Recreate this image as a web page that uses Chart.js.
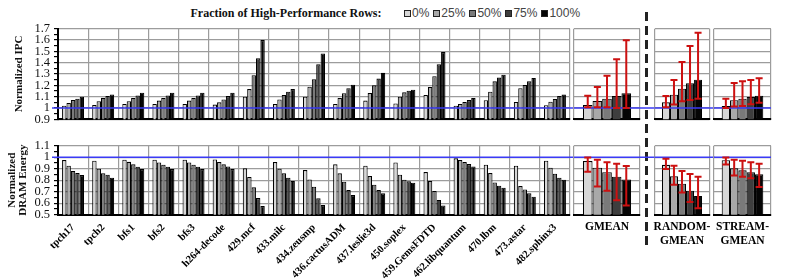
<!DOCTYPE html>
<html><head><meta charset="utf-8">
<script src="https://cdn.jsdelivr.net/npm/chart.js@4.4.0/dist/chart.umd.min.js"></script>
<style>
html,body{margin:0;padding:0;background:#fff;}
#wrap{position:relative;width:789px;height:279px;overflow:hidden;background:#fff;}
#wrap canvas{position:absolute;left:0;top:0;}
#title{position:absolute;left:0;top:6px;width:572px;text-align:center;font:bold 12px "Liberation Serif",serif;line-height:14px;color:#111;}
#legend{position:absolute;left:404px;top:6px;display:flex;font:12px "Liberation Sans",Arial,sans-serif;line-height:14px;color:#444;}
#legend span.item{display:flex;align-items:center;margin-right:4px;}
#legend span.sw{display:inline-block;width:5px;height:5px;border:1.5px solid #222;margin-right:1px;}
#dash{position:absolute;left:645px;top:12px;width:3px;height:236px;background:repeating-linear-gradient(to bottom,#222 0 9px,transparent 9px 14px);}
</style></head><body>
<div id="wrap">
<div id="title">Fraction of High-Performance Rows:</div>
<div id="legend"></div>
<div id="dash"></div>
<canvas id="c0" width="789" height="279"></canvas>
<canvas id="c1" width="789" height="279"></canvas>
<canvas id="c2" width="789" height="279"></canvas>
<canvas id="c3" width="789" height="279"></canvas>
<canvas id="c4" width="789" height="279"></canvas>
<canvas id="c5" width="789" height="279"></canvas>
<canvas id="c6" width="789" height="279"></canvas>
<canvas id="c7" width="789" height="279"></canvas>
</div>
<script>
// ---------------- data ----------------
const categories = ['tpch17','tpch2','bfs1','bfs2','bfs3','h264-decode','429.mcf','433.milc','434.zeusmp','436.cactusADM','437.leslie3d','450.soplex','459.GemsFDTD','462.libquantum','470.lbm','473.astar','482.sphinx3'];
const seriesNames = ['0%','25%','50%','75%','100%'];

const ipc0   = [1.02,1.026,1.035,1.035,1.035,1.03,1.10,1.035,1.10,1.035,1.065,1.04,1.115,1.02,1.068,1.053,1.024];
const ipc25  = [1.044,1.06,1.06,1.065,1.065,1.05,1.167,1.075,1.188,1.088,1.132,1.10,1.185,1.035,1.144,1.174,1.056];
const ipc50  = [1.07,1.09,1.088,1.088,1.088,1.075,1.29,1.115,1.253,1.13,1.20,1.138,1.28,1.053,1.235,1.203,1.08];
const ipc75  = [1.082,1.106,1.11,1.11,1.11,1.105,1.438,1.144,1.385,1.174,1.26,1.153,1.385,1.07,1.268,1.235,1.106];
const ipc100 = [1.10,1.12,1.135,1.135,1.135,1.135,1.60,1.167,1.482,1.206,1.31,1.162,1.494,1.088,1.294,1.265,1.118];

const energy0   = [0.975,0.97,0.978,0.978,0.978,0.98,0.903,0.958,0.888,0.938,0.926,0.955,0.871,0.99,0.935,0.926,0.97];
const energy25  = [0.926,0.90,0.96,0.955,0.955,0.958,0.828,0.90,0.807,0.86,0.836,0.848,0.793,0.975,0.862,0.749,0.909];
const energy50  = [0.88,0.86,0.938,0.935,0.935,0.938,0.738,0.86,0.743,0.787,0.761,0.804,0.706,0.958,0.781,0.72,0.857];
const energy75  = [0.862,0.848,0.917,0.917,0.917,0.92,0.645,0.822,0.642,0.714,0.714,0.79,0.628,0.94,0.752,0.686,0.822];
const energy100 = [0.845,0.822,0.897,0.897,0.897,0.897,0.575,0.793,0.584,0.671,0.686,0.778,0.581,0.92,0.735,0.657,0.804];

const meanLabels = ['GMEAN', ['RANDOM-','GMEAN'], ['STREAM-','GMEAN']];

const gmeanIpc      = [1.026,1.062,1.082,1.106,1.13];
const gmeanIpcLow   = [1.006,1.006,1.006,1.0,1.0];
const gmeanIpcHigh  = [1.109,1.185,1.285,1.43,1.598];
const randomIpc     = [1.05,1.117,1.17,1.218,1.25];
const randomIpcLow  = [1.006,1.03,1.06,1.07,1.082];
const randomIpcHigh = [1.106,1.247,1.406,1.547,1.665];
const streamIpc     = [1.018,1.068,1.082,1.097,1.109];
const streamIpcLow  = [1.0,1.012,1.018,1.033,1.047];
const streamIpcHigh = [1.082,1.22,1.236,1.247,1.262];

const gmeanEnergy      = [0.966,0.909,0.869,0.831,0.806];
const gmeanEnergyLow   = [0.874,0.746,0.709,0.626,0.58];
const gmeanEnergyHigh  = [0.997,0.977,0.957,0.943,0.923];
const randomEnergy     = [0.934,0.834,0.769,0.709,0.663];
const randomEnergyLow  = [0.897,0.76,0.694,0.611,0.557];
const randomEnergyHigh = [0.986,0.926,0.88,0.854,0.831];
const streamEnergy     = [0.974,0.903,0.886,0.869,0.851];
const streamEnergyLow  = [0.937,0.84,0.829,0.817,0.74];
const streamEnergyHigh = [0.997,0.977,0.969,0.957,0.943];

const ipcRange = [0.9, 1.7];
const energyRange = [0.5, 1.1];
const baseline = 1.0;

// ---------------- styling ----------------
const fills = ['#d6d6d6','#a9a9a9','#7a7a7a','#3e3e3e','#050505'];
const W = 789, H = 279;
const SERIF = '"Liberation Serif", "Times New Roman", serif';

// legend
const lg = document.getElementById('legend');
seriesNames.forEach((n,i)=>{
  const it = document.createElement('span'); it.className='item';
  const sw = document.createElement('span'); sw.className='sw'; sw.style.background = fills[i];
  it.appendChild(sw); it.appendChild(document.createTextNode(n)); lg.appendChild(it);
});

function overlayPlugin(ext, err){
  return {
    id:'overlay',
    afterDatasetsDraw(chart){
      const c = chart.ctx, y = chart.scales.y, a = chart.chartArea;
      c.save();
      const yb = y.getPixelForValue(baseline);
      c.strokeStyle = '#3b3bf5'; c.lineWidth = 1.6;
      c.beginPath(); c.moveTo(a.left - ext[0], yb); c.lineTo(a.right + ext[1], yb); c.stroke();
      if (err){
        c.strokeStyle = '#cc1111'; c.lineWidth = 2;
        chart.data.datasets.forEach((ds,i)=>{
          const el = chart.getDatasetMeta(i).data[0];
          const x = el.x;
          const yl = y.getPixelForValue(err.low[i]), yh = y.getPixelForValue(err.high[i]);
          c.beginPath();
          c.moveTo(x, yl); c.lineTo(x, yh);
          c.moveTo(x-3.5, yl); c.lineTo(x+3.5, yl);
          c.moveTo(x-3.5, yh); c.lineTo(x+3.5, yh);
          c.stroke();
        });
      }
      c.restore();
    }
  };
}

function build(id, cfg){
  const a = cfg.area;
  const showY = !!cfg.yTitle;
  return new Chart(document.getElementById(id), {
    type:'bar',
    data:{
      labels: cfg.labels,
      datasets: cfg.series.map((d,i)=>({
        label: seriesNames[i], data: d, backgroundColor: fills[i],
        borderColor:'#000', borderWidth:1.1, categoryPercentage:0.73, barPercentage:1
      }))
    },
    options:{
      responsive:false, animation:false, devicePixelRatio:1,
      layout:{padding:{left: showY ? 0 : a.left, right: W - a.right, top: a.top, bottom: H - a.bottom - cfg.xHeight}},
      plugins:{legend:{display:false}, tooltip:{enabled:false}},
      scales:{
        x:{
          grid:{color:'#9c9c9c', lineWidth:1.2, drawTicks:false, offset:true},
          border:{color:'#000', width:2},
          ticks:{
            display: cfg.xTicks, autoSkip:false,
            maxRotation: cfg.rot, minRotation: cfg.rot,
            padding: cfg.rot ? 7 : 6, color:'#000',
            font:{family:SERIF, weight:'bold', size: cfg.rot ? 10.5 : 11.5, lineHeight:1.15}
          },
          afterFit: s => { s.height = cfg.xHeight; }
        },
        y:{
          min: cfg.range[0], max: cfg.range[1],
          ticks:{
            display: showY, stepSize: showY ? 0.05 : 0.1, maxTicksLimit: 60, autoSkip:false,
            padding:4, color:'#111',
            font:{family:SERIF, size:12.5},
            callback: (v, i) => (showY && i % 2) ? '' : String(Math.round(v*10)/10)
          },
          grid:{
            color: ctx => (showY && ctx.index % 2) ? 'rgba(0,0,0,0)' : '#9c9c9c',
            lineWidth:1.2, drawTicks: showY, tickLength:4, tickColor:'#000', tickWidth:1.2
          },
          border:{display: showY, color:'#000', width:2},
          title:{
            display: showY, text: cfg.yTitle, color:'#111',
            font:{family:SERIF, weight:'bold', size:11, lineHeight: cfg.titleLH || 1.2},
            padding:{top: cfg.titlePad || 0, bottom:0}
          },
          afterFit: s => { s.width = showY ? a.left : 0; }
        }
      }
    },
    plugins:[overlayPlugin(cfg.ext, cfg.err)]
  });
}

const topY = [28.7, 119.3], botY = [145.7, 214.7];
const panels = [[58,570],[574,640],[654.5,709.5],[714,771]];
const exts = [[6,4],[0,14],[0,5],[0,0]];

// top row
build('c0', {labels:categories, series:[ipc0,ipc25,ipc50,ipc75,ipc100], range:ipcRange,
  area:{left:58,right:570,top:topY[0],bottom:topY[1]}, xHeight:0, xTicks:false, rot:0,
  yTitle:'Normalized IPC', titlePad:13, ext:exts[0]});
const topMeans = [[gmeanIpc,gmeanIpcLow,gmeanIpcHigh],[randomIpc,randomIpcLow,randomIpcHigh],[streamIpc,streamIpcLow,streamIpcHigh]];
topMeans.forEach((m,k)=>{
  build('c'+(k+1), {labels:[meanLabels[k]], series:m[0].map(v=>[v]), range:ipcRange,
    area:{left:panels[k+1][0],right:panels[k+1][1],top:topY[0],bottom:topY[1]}, xHeight:0, xTicks:false, rot:0,
    ext:exts[k+1], err:{low:m[1], high:m[2]}});
});
// bottom row
build('c4', {labels:categories, series:[energy0,energy25,energy50,energy75,energy100], range:energyRange,
  area:{left:58,right:570,top:botY[0],bottom:botY[1]}, xHeight:H-botY[1], xTicks:true, rot:45,
  yTitle:['Normalized','DRAM Energy'], titlePad:6.5, titleLH:1.0, ext:exts[0]});
const botMeans = [[gmeanEnergy,gmeanEnergyLow,gmeanEnergyHigh],[randomEnergy,randomEnergyLow,randomEnergyHigh],[streamEnergy,streamEnergyLow,streamEnergyHigh]];
botMeans.forEach((m,k)=>{
  build('c'+(k+5), {labels:[meanLabels[k]], series:m[0].map(v=>[v]), range:energyRange,
    area:{left:panels[k+1][0],right:panels[k+1][1],top:botY[0],bottom:botY[1]}, xHeight:H-botY[1], xTicks:true, rot:0,
    ext:exts[k+1], err:{low:m[1], high:m[2]}});
});
</script>
</body></html>
